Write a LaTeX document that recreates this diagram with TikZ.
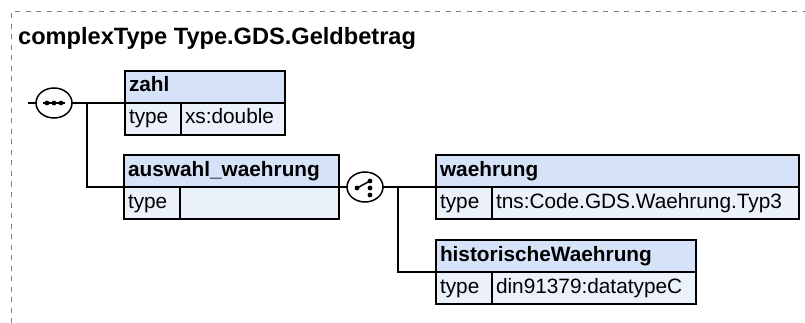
\documentclass[tikz,border=0pt]{standalone}
\usepackage{fontspec}
\setmainfont{Liberation Sans}
\usetikzlibrary{shapes.geometric}
\definecolor{hdrblue}{HTML}{D6E2F7}
\definecolor{rowblue}{HTML}{EBF1FB}

\tikzset{
  hdr/.style={draw=black, fill=hdrblue, line width=1.5pt, anchor=north west, outer sep=0pt,
    minimum height=32pt, inner xsep=4pt, inner ysep=0pt, text width=#1, align=left,
    text height=15pt, text depth=5pt, font=\fontsize{20.8}{25}\selectfont\bfseries},
  cell/.style={hdr=#1, fill=rowblue, font=\fontsize{20.8}{25}\selectfont},
  comp/.style={ellipse, draw=black, fill=white, line width=1.5pt, minimum width=36pt,
    minimum height=30pt, inner sep=0pt, outer sep=0pt},
  wire/.style={line width=1.5pt},
  frame/.style={draw=gray, line width=1pt, dash pattern=on 5pt off 5.5pt}
}

\begin{document}
\begin{tikzpicture}[x=1pt, y=-1pt]
\useasboundingbox (0,0) rectangle (805,323);
\draw[frame] (11,323) -- (11,12) -- (805,12);
\node[anchor=base west, inner sep=0pt, font=\fontsize{23.6}{28}\selectfont\bfseries] (title) at (18,45) {complexType Type.GDS.Geldbetrag};

\node[hdr=152pt] (zahl) at (125,71) {zahl};
\node[cell=48pt] (zahl-type) at (zahl.south west) {type};
\node[cell=96pt] (zahl-val) at (zahl-type.north east) {xs:double};

\node[hdr=207pt] (auswahl) at (124,155) {auswahl\_waehrung};
\node[cell=48pt] (auswahl-type) at (auswahl.south west) {type};
\node[cell=151pt] (auswahl-val) at (auswahl-type.north east) {};

\node[hdr=355pt] (waehrung) at (436,155) {waehrung};
\node[cell=48pt] (waehrung-type) at (waehrung.south west) {type};
\node[cell=299pt] (waehrung-val) at (waehrung-type.north east) {tns:Code.GDS.Waehrung.Typ3};

\node[hdr=252pt] (hist) at (436,240) {historischeWaehrung};
\node[cell=48pt] (hist-type) at (hist.south west) {type};
\node[cell=196pt] (hist-val) at (hist-type.north east) {din91379:datatypeC};

\node[comp] (seq) at (54,103) {};
\draw[wire] ([xshift=-11pt]seq.center) -- ([xshift=11pt]seq.center);
\foreach \dx in {-7,0,7}
  \fill ([xshift=\dx pt]seq.center) circle [radius=2.4pt];

\node[comp] (cho) at (365,187) {};
\draw[wire] ([shift={(-8,1)}]cho.center) -- ([shift={(5,-6)}]cho.center);
\fill ([shift={(-8,1)}]cho.center) circle [radius=2.4pt];
\foreach \dy in {-6,1,8}
  \fill ([shift={(5,\dy)}]cho.center) circle [radius=2.4pt];

\coordinate (start) at (28,103);
\draw[wire] (start) -- (seq.west);
\draw[wire] (seq.east) -- (zahl.south west);
\draw[wire] ([xshift=15pt]seq.east) |- (auswahl.south west);
\draw[wire] (auswahl.south east) -- (cho.west);
\draw[wire] (cho.east) -- (waehrung.south west);
\draw[wire] ([xshift=15pt]cho.east) |- (hist.south west);
\end{tikzpicture}
\end{document}
